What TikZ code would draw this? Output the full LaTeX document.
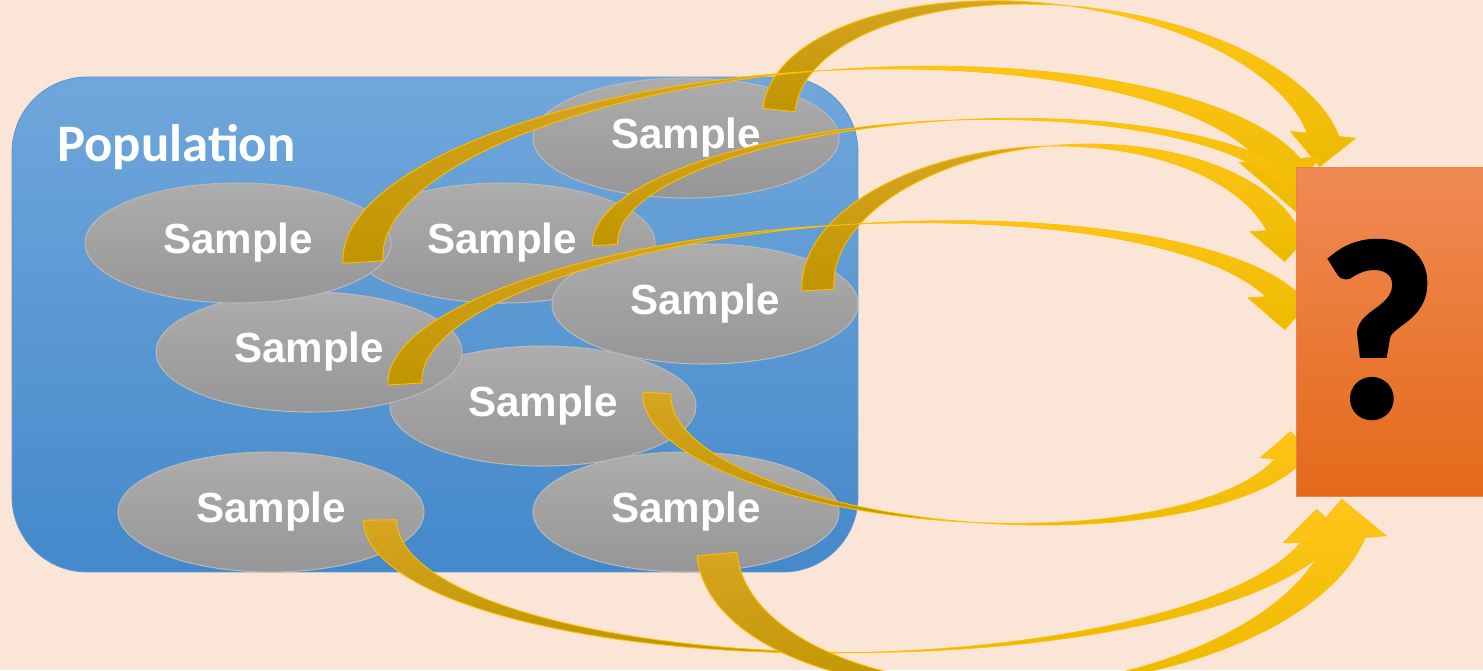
\documentclass[tikz,border=0pt]{standalone}
\usepackage{fontspec}
\usetikzlibrary{shapes.geometric,calc}
\newfontfamily\arialfont{Liberation Sans}
\newfontfamily\calfont{Carlito}
\newfontfamily\qmarkfont[BoldFeatures={FakeBold=2.5}]{Carlito}

\definecolor{pagebg}{RGB}{251,229,214}
\definecolor{popTop}{RGB}{112,167,219}
\definecolor{popBot}{RGB}{68,137,203}
\definecolor{popEdge}{RGB}{95,150,210}
\definecolor{smpTop}{RGB}{173,173,173}
\definecolor{smpBot}{RGB}{150,150,150}
\definecolor{smpEdge}{RGB}{185,185,185}
\definecolor{qTop}{RGB}{240,138,84}
\definecolor{qBot}{RGB}{228,106,26}
\definecolor{qEdge}{RGB}{236,128,70}
\definecolor{backTop}{RGB}{214,165,34}
\definecolor{backBot}{RGB}{192,149,0}
\definecolor{faceTop}{RGB}{255,197,24}
\definecolor{faceBot}{RGB}{236,186,0}
\definecolor{ribbonEdge}{RGB}{255,192,0}

\pgfdeclarelayer{front}
\pgfsetlayers{main,front}

\tikzset{
  popbox/.style={rectangle, rounded corners=1.5cm, draw=popEdge, line width=0.5pt,
    top color=popTop, bottom color=popBot, minimum width=16.92cm, minimum height=9.9cm},
  sample/.style={ellipse, draw=smpEdge, line width=0.6pt, top color=smpTop, bottom color=smpBot,
    minimum width=6.12cm, minimum height=2.4cm, inner sep=0pt,
    text=white, font=\arialfont\bfseries\fontsize{24}{24}\selectfont},
  qbox/.style={rectangle, draw=qEdge, line width=0.5pt, top color=qTop, bottom color=qBot,
    minimum width=3.74cm, minimum height=6.58cm, inner sep=0pt},
  backface/.style={draw=ribbonEdge, line width=0.5pt, top color=backTop, bottom color=backBot},
  frontface/.style={draw=ribbonEdge, line width=0.4pt, top color=faceTop, bottom color=faceBot},
}

\makeatletter
% curved ribbon arrow: #1 flip (1 up, -1 down), #2 base, #3 tip, #4 height, #5 band (px)
\newcommand\ribbon[5][1]{%
  \pgfpointdiff{\pgfpointanchor{#2}{center}}{\pgfpointanchor{#3}{center}}%
  \edef\rbdx{\the\pgf@x}\edef\rbdy{\the\pgf@y}%
  \pgfmathsetmacro\rbang{atan2(\rbdy,\rbdx)}%
  \pgfmathsetmacro\rblen{veclen(\rbdx,\rbdy)/0.569055}%
  \pgfmathsetmacro\rbth{#5}%
  \pgfmathsetmacro\rbah{#5}%
  \pgfmathsetmacro\rbaw{2.05*#5}%
  \pgfmathsetmacro\rbtn{asin(\rbah/#4)}%
  \pgfmathsetmacro\rba{\rblen/(1+cos(\rbtn))}%
  \pgfmathsetmacro\rbto{acos(\rbth/(2*\rba))}%
  \pgfmathsetmacro\rbyx{#4*sin(\rbto)}%
  \begin{scope}[shift={(#2)}, rotate=\rbang, x=0.02cm, y=0.02cm, yscale=#1]
    \path[backface] ({-\rbth/2},0)
      arc[start angle=180, end angle=\rbto, x radius=\rba, y radius=#4]
      arc[start angle=180-\rbto, end angle=180, x radius=\rba, y radius=#4]
      -- cycle;
    \path[frontface] (\rba,\rbyx)
      arc[start angle=180-\rbto, end angle=\rbtn, x radius=\rba, y radius=#4]
      -- ({\rblen+\rbaw/2},\rbah) -- (\rblen,0) -- ({\rblen-\rbaw/2},\rbah)
      -- ({\rblen-\rbth/2},\rbah)
      arc[start angle=\rbtn, end angle=\rbto, x radius=\rba, y radius=#4]
      -- cycle;
  \end{scope}
}
\makeatother

\begin{document}
\begin{tikzpicture}[x=0.02cm, y=-0.02cm]
  \useasboundingbox[fill=pagebg] (0,0) rectangle (1483,670);
  %% Population
  \node[popbox] (pop) at (435,324.5) {};
  \node[anchor=base west, inner sep=0pt, text=white,
    font=\calfont\bfseries\fontsize{30}{30}\selectfont] (poplabel) at (57,161) {Population};
  %% Samples
  \node[sample] (s1) at (686,138) {Sample};
  \node[sample] (s3) at (502,243) {Sample};
  \node[sample] (s6) at (543,406) {Sample};
  \node[sample] (s4) at (705,304) {Sample};
  \node[sample] (s5) at (309,352) {Sample};
  \node[sample] (s2) at (238,243) {Sample};
  \node[sample] (s7) at (271,512) {Sample};
  \node[sample] (s8) at (686,512) {Sample};
  %% Unknown
  \begin{pgfonlayer}{front}
    \node[qbox] (q) at (1389.5,331.5) {};
    \node[font=\qmarkfont\bfseries\fontsize{143}{143}\selectfont]
      (qmark) at ($(q.center)+(-12,-2)$) {?};
  \end{pgfonlayer}
  %% Arrow ends
  \coordinate (b1) at ($(s1)+(93,-28)$);
  \coordinate (b2) at ($(s2)+(125,19)$);
  \coordinate (b3) at ($(s3)+(103,2)$);
  \coordinate (b4) at ($(s4)+(113,-14)$);
  \coordinate (b5) at ($(s5)+(96,32)$);
  \coordinate (b6) at ($(s6)+(114,-13)$);
  \coordinate (b7) at ($(s7)+(109,8)$);
  \coordinate (b8) at ($(s8)+(31,42)$);
  \coordinate (t1) at ($(q.north west)+(24,0)$);
  \coordinate (t2) at ($(q.north west)+(-13,33)$);
  \coordinate (t3) at ($(q.north west)+(0,45)$);
  \coordinate (t4) at ($(q.north west)+(-11,95)$);
  \coordinate (t5) at ($(q.north west)+(-11,163)$);
  \coordinate (t6) at ($(q.north west)+(-5,265)$);
  \coordinate (t7) at ($(q.south west)+(21,13)$);
  \coordinate (t8) at ($(q.south west)+(46,3)$);
  %% Arrows
  \ribbon{b1}{t1}{134}{32}
  \ribbon{b2}{t2}{160}{40}
  \ribbon{b3}{t3}{108}{25}
  \ribbon{b4}{t4}{130}{32}
  \ribbon{b5}{t5}{132}{34}
  \ribbon[-1]{b6}{t6}{110}{28}
  \ribbon[-1]{b7}{t7}{138}{33}
  \ribbon[-1]{b8}{t8}{160}{40}
\end{tikzpicture}
\end{document}
